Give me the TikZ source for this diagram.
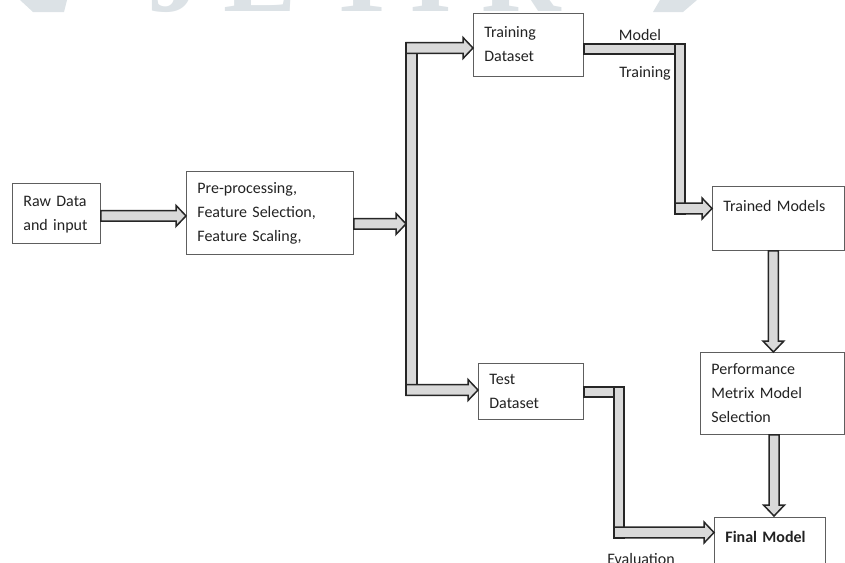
\documentclass[tikz,border=0pt]{standalone}
\usepackage{fontspec}
\setmainfont{Carlito}
\newfontfamily\wmfont{Liberation Serif}
\usetikzlibrary{calc}
\definecolor{afill}{HTML}{D9D9D9}
\definecolor{aline}{HTML}{262626}
\definecolor{bline}{HTML}{5E5E5E}
\definecolor{txt}{HTML}{222222}
\definecolor{wm}{HTML}{DCE2E6}
\newcommand\myrarrow[2]{\draw[blk] ($(#1)+(0,-5.3)$) -- ($(#2)+(-10,-5.3)$) -- ($(#2)+(-10,-10.5)$) -- (#2) -- ($(#2)+(-10,10.5)$) -- ($(#2)+(-10,5.3)$) -- ($(#1)+(0,5.3)$) -- cycle;}
\newcommand\mydarrow[2]{\draw[blk] ($(#1)+(-5,0)$) -- ($(#2)+(-5,-11)$) -- ($(#2)+(-10.5,-11)$) -- (#2) -- ($(#2)+(10.5,-11)$) -- ($(#2)+(5,-11)$) -- ($(#1)+(5,0)$) -- cycle;}
\begin{document}
\begin{tikzpicture}[x=1pt,y=-1pt,
  box/.style={draw=bline, line width=0.8pt, anchor=north west, align=left,
    inner xsep=11pt, inner ysep=0pt, font=\fontsize{16}{24}\selectfont, text=txt,
    execute at begin node=\strut, execute at end node=\strut},
  blk/.style={fill=afill, draw=aline, line width=1.5pt, line join=miter},
  lbl/.style={font=\fontsize{16}{24}\selectfont, text=txt, inner sep=0pt},
  wmt/.style={font=\wmfont\bfseries\fontsize{110}{110}\selectfont, text=wm, inner sep=0pt, anchor=base}]
\useasboundingbox (0,0) rectangle (845,562);
\clip (0,0) rectangle (845,562);
% watermark
\fill[wm] (20,0) -- (67,0) -- (64,12) -- (33,12) -- cycle;
\fill[wm] (660,0) -- (697,0) -- (683,12) -- (653,12) -- cycle;
\node[wmt] (w1) at (175,12) {J};
\node[wmt] (w2) at (260,12) {E};
\node[wmt] (w3) at (362,12) {T};
\node[wmt] (w4) at (431,12) {I};
\node[wmt] (w5) at (521,12) {R};
% boxes
\node[box, text width=66pt, minimum height=60pt] (raw) at (12,183) {Raw Data\\\mbox{and input}};
\node[box, text width=145pt, minimum height=83pt] (pre) at (186,171) {Pre-processing,\\Feature Selection,\\Feature Scaling,};
\node[box, text width=88pt, minimum height=63pt] (train) at (473,13) {Training\\Dataset};
\node[box, text width=83pt, minimum height=56pt] (test) at (478,363) {Test\\Dataset};
\node[box, text width=110pt, minimum height=64pt] (trained) at (712,186) {Trained Models\\};
\node[box, text width=122pt, minimum height=82pt] (perf) at (700,352) {Performance\\Metrix Model\\Selection};
\node[box, text width=89pt, minimum height=64pt] (final) at (714,517) {\textbf{Final Model}\\};
% raw -> pre
\coordinate (a1) at ($(raw.east)+(0,2.5)$);
\coordinate (a1e) at (pre.west |- a1);
\myrarrow{a1}{a1e}
% main splitter bar
\draw[blk] (406,43) rectangle (417,395);
\coordinate (a2) at ($(pre.east)+(0,11)$);
\coordinate (a2e) at (406,0);
\coordinate (a2t) at (a2e |- a2);
\myrarrow{a2}{a2t}
\coordinate (a3) at (406,48);
\coordinate (a3e) at (train.west |- a3);
\myrarrow{a3}{a3e}
\coordinate (a4) at (406,390);
\coordinate (a4e) at (test.west |- a4);
\myrarrow{a4}{a4e}
% model training path
\draw[blk] (train.east |- 0,44) rectangle (685,54);
\draw[blk] (675,44) rectangle (685,214);
\coordinate (a5) at (675,208.5);
\coordinate (a5e) at (trained.west |- a5);
\myrarrow{a5}{a5e}
% trained -> perf
\coordinate (a6) at ($(trained.south)+(-5,0)$);
\coordinate (a6e) at (perf.north -| a6);
\mydarrow{a6}{a6e}
% perf -> final
\coordinate (a7) at (774,0);
\coordinate (a7s) at (perf.south -| a7);
\coordinate (a7e) at ($(final.north -| a7)+(0,-1)$);
\mydarrow{a7s}{a7e}
% evaluation path
\draw[blk] (test.east |- 0,387) rectangle (624,397);
\draw[blk] (614,387) rectangle (624,538);
\coordinate (a8) at (614,532.5);
\coordinate (a8e) at (final.west |- a8);
\myrarrow{a8}{a8e}
% labels
\node[lbl] (lmodel) at (640,35) {Model};
\node[lbl] (ltrain) at (645,73) {Training};
\node[lbl] (leval) at (641,559) {Evaluation};
\end{tikzpicture}
\end{document}
